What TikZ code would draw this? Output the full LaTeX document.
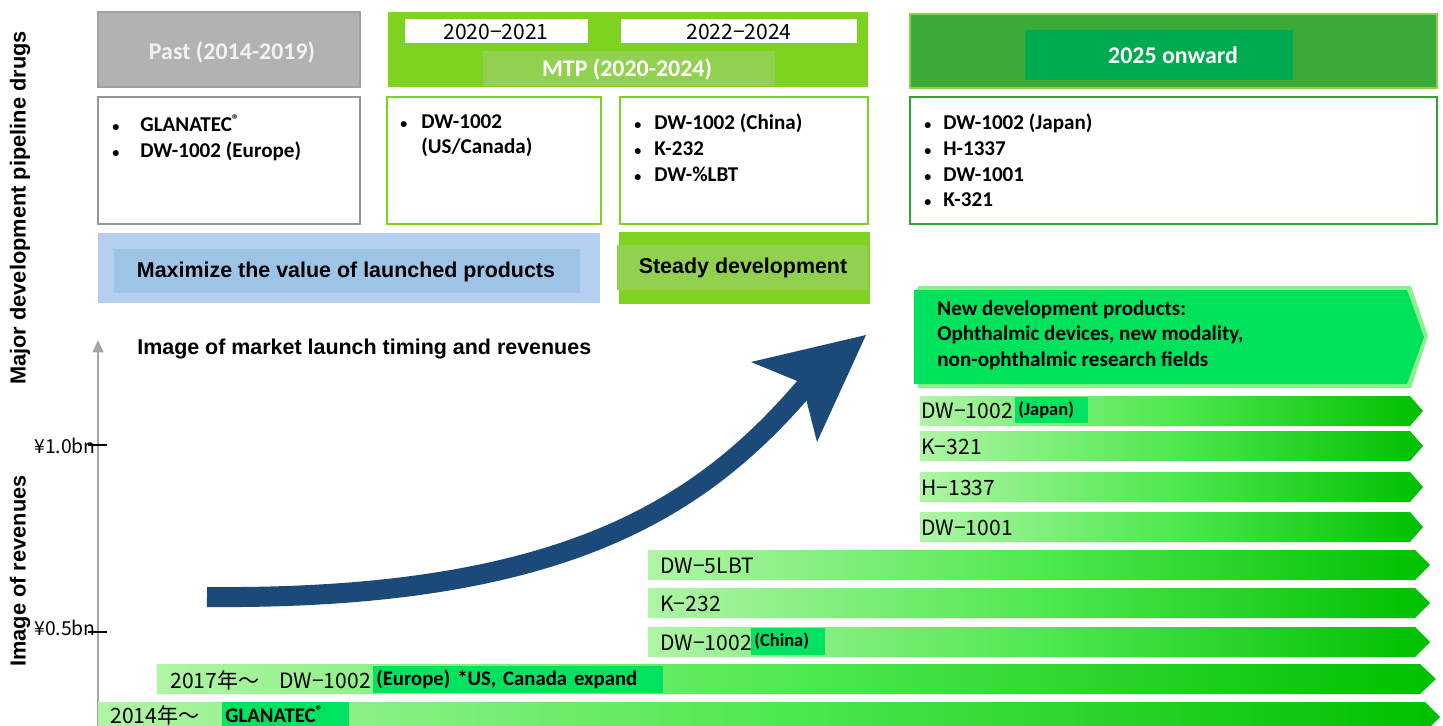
\documentclass[tikz,border=0pt]{standalone}
\usepackage{fontspec}
\setmainfont{Carlito}
\newfontfamily\arialfont{Liberation Sans}
\newfontfamily\jpfont{Noto Sans CJK JP}
\usepackage{xcolor}
\usetikzlibrary{arrows.meta}

\definecolor{pastgray}{RGB}{178,178,178}
\definecolor{pastedge}{RGB}{160,160,160}
\definecolor{mtpgreen}{RGB}{126,211,33}
\definecolor{mtplight}{RGB}{146,208,80}
\definecolor{onwardgreen}{RGB}{60,170,55}
\definecolor{onwardedge}{RGB}{140,208,75}
\definecolor{onwardinner}{RGB}{0,170,80}
\definecolor{listgray}{RGB}{150,150,150}
\definecolor{listdark}{RGB}{55,160,55}
\definecolor{bandblue}{RGB}{180,207,240}
\definecolor{bandinner}{RGB}{157,195,230}
\definecolor{arrownavy}{RGB}{28,74,120}
\definecolor{axisgray}{RGB}{166,166,166}
\definecolor{newgreen}{RGB}{0,226,92}
\definecolor{newshadow}{RGB}{140,240,140}
\definecolor{taggreen}{RGB}{0,226,96}
\definecolor{barlight}{RGB}{175,245,165}
\definecolor{barmid}{RGB}{80,232,80}
\definecolor{bardark}{RGB}{0,192,0}

\begin{document}
\begin{tikzpicture}[x=0.02cm, y=-0.02cm,
        headtext/.style={font=\bfseries\fontsize{13.6}{15}\selectfont, text=white, inner sep=0pt},
        yeartext/.style={font=\jpfont\fontsize{12}{14}\selectfont, inner sep=0pt},
        itemlist/.style={anchor=north west, align=left, inner sep=0pt, font=\bfseries\fontsize{12}{14.6}\selectfont},
        bandtext/.style={font=\arialfont\bfseries\fontsize{12.2}{14}\selectfont, inner sep=0pt},
        sidelabel/.style={rotate=90, font=\arialfont\bfseries\fontsize{12.4}{14}\selectfont, inner sep=0pt},
        ticklabel/.style={anchor=east, font=\jpfont\fontsize{11}{12}\selectfont, inner sep=0pt},
        pipebar/.style={left color=barlight, right color=bardark, middle color=barmid},
        barlabel/.style={anchor=west, font=\jpfont\fontsize{12}{14}\selectfont, inner sep=0pt},
        regiontag/.style={anchor=west, fill=taggreen, align=left, inner xsep=0.06cm, inner ysep=0pt, minimum height=0.54cm, font=\bfseries\fontsize{10.5}{12}\selectfont}
    ]
    \useasboundingbox (0,0) rectangle (1443,726);

    % Side labels
    \node[sidelabel] (pipelinelabel) at (20,208) {Major development pipeline drugs};
    \node[sidelabel] (revenuelabel) at (20,571) {Image of revenues};

    % Header: past
    \draw[fill=pastgray, draw=pastedge, line width=1.2pt] (98,12) rectangle (360,87);
    \node[headtext, text=white!95!black] (pasthead) at (232,52) {Past (2014-2019)};

    % Header: MTP with the two periods
    \fill[mtpgreen] (388,12) rectangle (868,87);
    \fill[white] (405,19) rectangle (588,43);
    \fill[white] (621,19) rectangle (857,43);
    \fill[mtplight] (483,51) rectangle (775,86);
    \node[yeartext] (period1) at (496,32) {2020−2021};
    \node[yeartext] (period2) at (739,32) {2022−2024};
    \node[headtext] (mtphead) at (627,69) {MTP (2020-2024)};

    % Header: 2025 onward
    \draw[fill=onwardgreen, draw=onwardedge, line width=1.4pt] (910,14) rectangle (1437,88);
    \fill[onwardinner] (1025,30) rectangle (1293,80);
    \node[headtext] (onwardhead) at (1173,55) {2025 onward};

    % Pipeline lists
    \draw[listgray, line width=1.3pt, fill=white] (98,97) rectangle (360,224);
    \node[itemlist] (pastlist) at (112,114) {\makebox[0.56cm][l]{\fontsize{8}{8}\selectfont•}GLANATEC\raisebox{0.35em}{\fontsize{8}{8}\selectfont®}\\\makebox[0.56cm][l]{\fontsize{8}{8}\selectfont•}DW-1002 (Europe)};

    \draw[mtpgreen, line width=1.4pt, fill=white] (387,97) rectangle (601,224);
    \node[itemlist] (mtplist1) at (400,114) {\makebox[0.42cm][l]{\fontsize{8}{8}\selectfont•}DW-1002\\\makebox[0.42cm][l]{}(US/Canada)};

    \draw[mtpgreen, line width=1.4pt, fill=white] (620,97) rectangle (868,224);
    \node[itemlist] (mtplist2) at (634,114) {\makebox[0.4cm][l]{\fontsize{8}{8}\selectfont•}DW-1002 (China)\\\makebox[0.4cm][l]{\fontsize{8}{8}\selectfont•}K-232\\\makebox[0.4cm][l]{\fontsize{8}{8}\selectfont•}DW-\%LBT};

    \draw[listdark, line width=1.4pt, fill=white] (910,97) rectangle (1437,224);
    \node[itemlist] (onwardlist) at (924,114) {\makebox[0.38cm][l]{\fontsize{8}{8}\selectfont•}DW-1002 (Japan)\\\makebox[0.38cm][l]{\fontsize{8}{8}\selectfont•}H-1337\\\makebox[0.38cm][l]{\fontsize{8}{8}\selectfont•}DW-1001\\\makebox[0.38cm][l]{\fontsize{8}{8}\selectfont•}K-321};

    % Policy bands
    \fill[bandblue] (98,233) rectangle (600,303);
    \fill[bandinner] (114,249) rectangle (580,293);
    \node[bandtext] (maximize) at (346,272) {Maximize the value of launched products};

    \fill[mtpgreen] (619,232) rectangle (870,304);
    \fill[mtplight] (617,245) rectangle (868,290);
    \node[bandtext] (steady) at (743,268) {Steady development};

    % Revenue axis
    \coordinate (axisbottom) at (98,726);
    \coordinate (axistop) at (98,340);
    \draw[axisgray, line width=1.6pt, -{Triangle[width=6pt, length=7pt]}] (axisbottom) -- (axistop);
    \draw[line width=0.8pt] (88,445) -- (107,445);
    \draw[line width=0.8pt] (88,632) -- (107,632);
    \node[ticklabel] (tick1bn) at (96,446) {¥1.0bn};
    \node[ticklabel] (tick05bn) at (96,628) {¥0.5bn};

    \node[anchor=west, font=\arialfont\bfseries\fontsize{12.2}{14}\selectfont, inner sep=0pt] (chartitle) at (137,349) {Image of market launch timing and revenues};

    % Growth arrow
    \draw[arrownavy, line width=0.4cm] (207,597) .. controls (560,600) and (700,510) .. (806,386);
    \fill[arrownavy] (866,335) -- (751,362) -- (802,383) -- (817,442) -- cycle;

    % New development products
    \fill[newshadow] (918,286) -- (1411,286) -- (1428,336) -- (1411,388) -- (918,388) -- cycle;
    \fill[newgreen] (914,290) -- (1407,290) -- (1424,337) -- (1407,384) -- (914,384) -- cycle;
    \node[itemlist] (newdev) at (937,300) {New development products:\\Ophthalmic devices, new modality,\\non-ophthalmic research fields};

    % Product bars, 2025 onward
    \shade[pipebar] (920,396) -- (1410,396) -- (1423,411) -- (1410,426) -- (920,426) -- cycle;
    \node[barlabel] (barjapan) at (921,411) {DW−1002};
    \node[regiontag, text width=1.34cm] (tagjapan) at (1015,410) {(Japan)};

    \shade[pipebar] (920,431) -- (1410,431) -- (1423,446) -- (1410,461) -- (920,461) -- cycle;
    \node[barlabel] (bark321) at (921,447) {K−321};

    \shade[pipebar] (920,472) -- (1410,472) -- (1423,487) -- (1410,502) -- (920,502) -- cycle;
    \node[barlabel] (barh1337) at (921,488) {H−1337};

    \shade[pipebar] (920,512) -- (1410,512) -- (1423,527) -- (1410,542) -- (920,542) -- cycle;
    \node[barlabel] (bardw1001) at (921,528) {DW−1001};

    % Product bars, 2022-2024
    \shade[pipebar] (648,550) -- (1415,550) -- (1430,565) -- (1415,580) -- (648,580) -- cycle;
    \node[barlabel] (bardw5lbt) at (660,566) {DW−5LBT};

    \shade[pipebar] (648,588) -- (1415,588) -- (1430,603) -- (1415,618) -- (648,618) -- cycle;
    \node[barlabel] (bark232) at (660,604) {K−232};

    \shade[pipebar] (648,627) -- (1415,627) -- (1430,642) -- (1415,657) -- (648,657) -- cycle;
    \node[barlabel] (barchina) at (660,643) {DW−1002};
    \node[regiontag, text width=1.36cm] (tagchina) at (751,641) {(China)};

    % Launched products
    \shade[pipebar] (157,664) -- (1420,664) -- (1436,679) -- (1420,694) -- (157,694) -- cycle;
    \node[barlabel] (bareurope) at (170,680) {2017年～\hspace{0.4cm}DW−1002};
    \node[regiontag, text width=5.68cm, font=\bfseries\fontsize{11.8}{13}\selectfont] (tageurope) at (373,679) {(Europe) *US, Canada expand};

    \shade[pipebar] (98,702) -- (1425,702) -- (1440,717) -- (1425,732) -- (98,732) -- cycle;
    \node[barlabel] (barglanatec) at (110,715) {2014年～};
    \node[regiontag, text width=2.42cm, minimum height=0.48cm, font=\bfseries\fontsize{11.8}{13}\selectfont] (tagglanatec) at (222,714) {GLANATEC\raisebox{0.35em}{\fontsize{8}{8}\selectfont®}};

\end{tikzpicture}
\end{document}
